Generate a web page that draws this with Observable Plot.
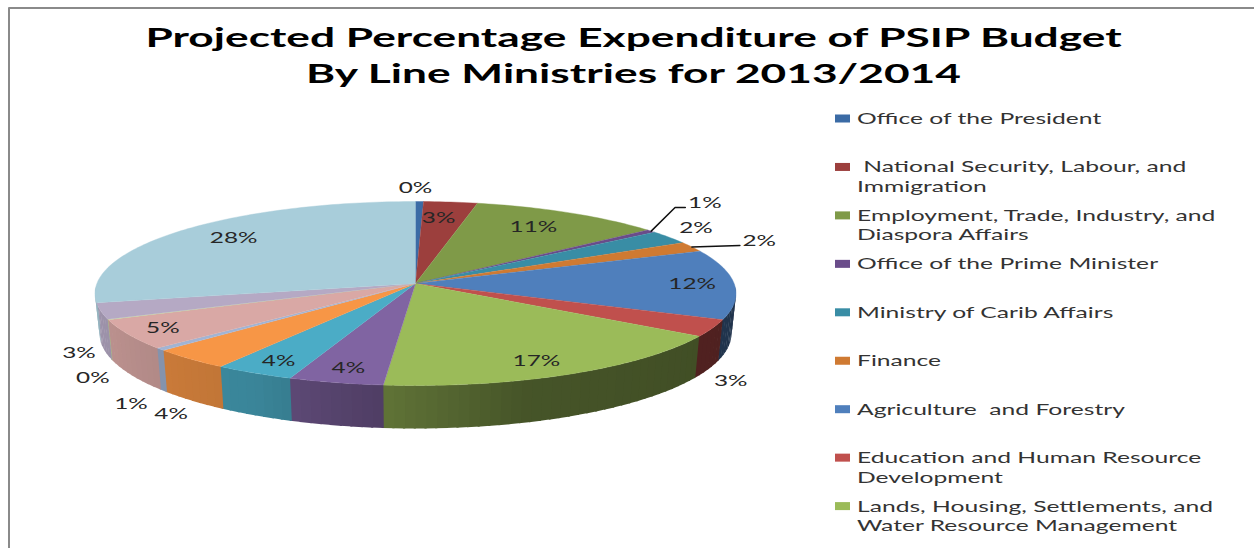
<!DOCTYPE html>
<html>
<head>
<meta charset="utf-8">
<script src="https://cdn.jsdelivr.net/npm/d3@7"></script>
<script src="https://cdn.jsdelivr.net/npm/@observablehq/plot@0.6"></script>
<style>
html,body{margin:0;padding:0;background:#fff;overflow:hidden}
svg{display:block}
</style>
</head>
<body>
<div id="chart"></div>
<script>
// Chart values
const titleLines = ["Projected Percentage Expenditure of PSIP Budget", "By Line Ministries for 2013/2014"];
const shareLabels = ["0%","3%","11%","1%","2%","2%","12%","3%","17%","4%","4%","4%","1%","5%","0%","3%","28%"];
const drawnShares = [0.4,2.7,9.8,0.5,2.3,1.7,12.2,3.1,18.9,4.8,4.0,4.0,0.5,5.5,0.1,2.9,26.6];
const legendEntries = [
  ["Office of the President"],
  ["\u00a0National Security, Labour, and","Immigration"],
  ["Employment, Trade, Industry, and","Diaspora Affairs"],
  ["Office of the Prime Minister"],
  ["Ministry of Carib Affairs"],
  ["Finance"],
  ["Agriculture\u00a0 and Forestry"],
  ["Education and Human Resource","Development"],
  ["Lands, Housing, Settlements, and","Water Resource Management"]
];
const sliceColors = ["#3b6ba5","#9c3f3d","#7f9a48","#6a4c8a","#398da5","#cf7a32","#4f7fbc","#c0504d","#9bbb59","#8064a2","#4bacc6","#f79646","#a1b4d4","#d9a8a5","#c3d69b","#b5a9c4","#a8cdda"];

// Layout (polar placement of each value label around the pie: radius factor, degrees)
const labelPlacement = [[1.152,0],[.829,5],[.816,26.8],[1.339,42.4],[1.131,50.7],[1.217,61.8],[.87,82.8],[1.365,133.9],[.82,152.6],[.831,194.6],[.844,210.4],[1.511,210.3],[1.489,216.6],[.871,244.8],[1.359,227.8],[1.23,238.6],[.832,317]];
const leaderPlacement = {3: [[1.237,40.9],[1.258,42]], 5: [[1.139,62.7]]};

const W = 1254, H = 548;
const cx = 415, topCy = 293, rx = 320.5, ry = 92, apexY = 283;
const botCy = 333, botRx = 316, botRy = 95;
const rad = d => d * Math.PI / 180;
const topRim = (deg, r = 1) => ({x: cx + rx * r * Math.sin(rad(deg)), y: topCy - ry * r * Math.cos(rad(deg))});
const botRim = deg => ({x: cx + botRx * Math.sin(rad(deg)), y: botCy - botRy * Math.cos(rad(deg))});
const shade = d3.scaleLinear().domain([90,120,160,185,195,210,225,253,275]).range([.4,.42,.45,.61,.67,.77,.8,.86,.88]).clamp(true);
const darken = (c, k) => { const o = d3.rgb(c); return d3.rgb(o.r*k, o.g*k, o.b*k).formatHex(); };

// Slice angles from the shares
let acc = 0;
const slices = drawnShares.map((s, i) => {
  const a0 = acc * 3.6; acc += s; const a1 = acc * 3.6;
  return {i, a0, a1, mid: (a0 + a1) / 2, color: sliceColors[i]};
});

const topPts = [], wallPts = [];
for (const s of slices) {
  topPts.push({key: "t" + s.i, x: cx, y: apexY, color: s.color});
  const n = Math.max(2, Math.ceil(s.a1 - s.a0));
  for (let j = 0; j <= n; j++) topPts.push({key: "t" + s.i, ...topRim(s.a0 + (s.a1 - s.a0) * j / n), color: s.color});
  const lo = Math.max(s.a0, 86), hi = Math.min(s.a1, 274);
  if (hi > lo) {
    const m = Math.max(1, Math.ceil((hi - lo) / 2));
    for (let j = 0; j < m; j++) {
      const p = lo + (hi - lo) * j / m, q = Math.min(lo + (hi - lo) * (j + 1) / m + 0.4, 274);
      const col = darken(s.color, shade((p + q) / 2)), key = `w${s.i}_${j}`;
      [topRim(p), topRim(q), botRim(q), botRim(p)].forEach(pt => wallPts.push({key, ...pt, color: col}));
    }
  }
}

const labels = slices.map(s => {
  const [r, deg] = labelPlacement[s.i];
  return {...topRim(deg, r), text: shareLabels[s.i]};
});
const leaders = Object.entries(leaderPlacement).flatMap(([i, pts]) => [
  {key: i, ...topRim(slices[+i].mid)},
  ...pts.map(([r, deg]) => ({key: i, ...topRim(deg, r)}))
]);

const legendX = 856.5, swatchX = 835;
const rowY = i => 118.5 + 48.45 * i;
const swatches = legendEntries.map((_, i) => ({x1: swatchX, x2: swatchX + 15, y1: rowY(i) - 4, y2: rowY(i) + 4, color: sliceColors[i]}));
const legendText = legendEntries.flatMap((lines, i) => lines.map((t, k) => ({x: legendX, y: rowY(i) + 19.5 * k, t})));
const titleText = titleLines.map((t, k) => ({x: 633, y: 38.5 + 36 * k, t}));
const frame = [{x: 8.5, y: H + 5},{x: 8.5, y: 7.5},{x: W + 5, y: 7.5}];

const chart = Plot.plot({
  width: W, height: H, margin: 0,
  x: {domain: [0, W], range: [0, W], axis: null},
  y: {domain: [0, H], range: [0, H], axis: null},
  color: {type: "identity"},
  style: {background: "#fff", fontFamily: "Lato"},
  marks: [
    Plot.line(frame, {x: "x", y: "y", stroke: "#8a8a8a", strokeWidth: 2}),
    Plot.line(wallPts, {x: "x", y: "y", z: "key", fill: "color", stroke: null}),
    Plot.line(topPts, {x: "x", y: "y", z: "key", fill: "color", stroke: "color", strokeWidth: .4}),
    Plot.line(leaders, {x: "x", y: "y", z: "key", stroke: "#111", strokeWidth: 1.5}),
    Plot.text(labels, {x: "x", y: "y", text: "text", fontSize: 16, fill: "#262626", className: "stretch-label"}),
    Plot.rect(swatches, {x1: "x1", x2: "x2", y1: "y1", y2: "y2", fill: "color"}),
    Plot.text(legendText, {x: "x", y: "y", text: "t", textAnchor: "start", fontSize: 15.5, fill: "#333", className: "stretch-legend"}),
    Plot.text(titleText, {x: "x", y: "y", text: "t", fontSize: 26, fontWeight: "bold", fill: "#000", className: "stretch-title"})
  ]
});
// Reference text is horizontally stretched
const stretch = (cls, k) => chart.querySelectorAll(`.${cls} text`).forEach(t => {
  t.setAttribute("transform", (t.getAttribute("transform") || "") + ` scale(${k},1)`);
});
stretch("stretch-label", 1.52);
stretch("stretch-legend", 1.59);
stretch("stretch-title", 1.703);
document.getElementById("chart").append(chart);
</script>
</body>
</html>
